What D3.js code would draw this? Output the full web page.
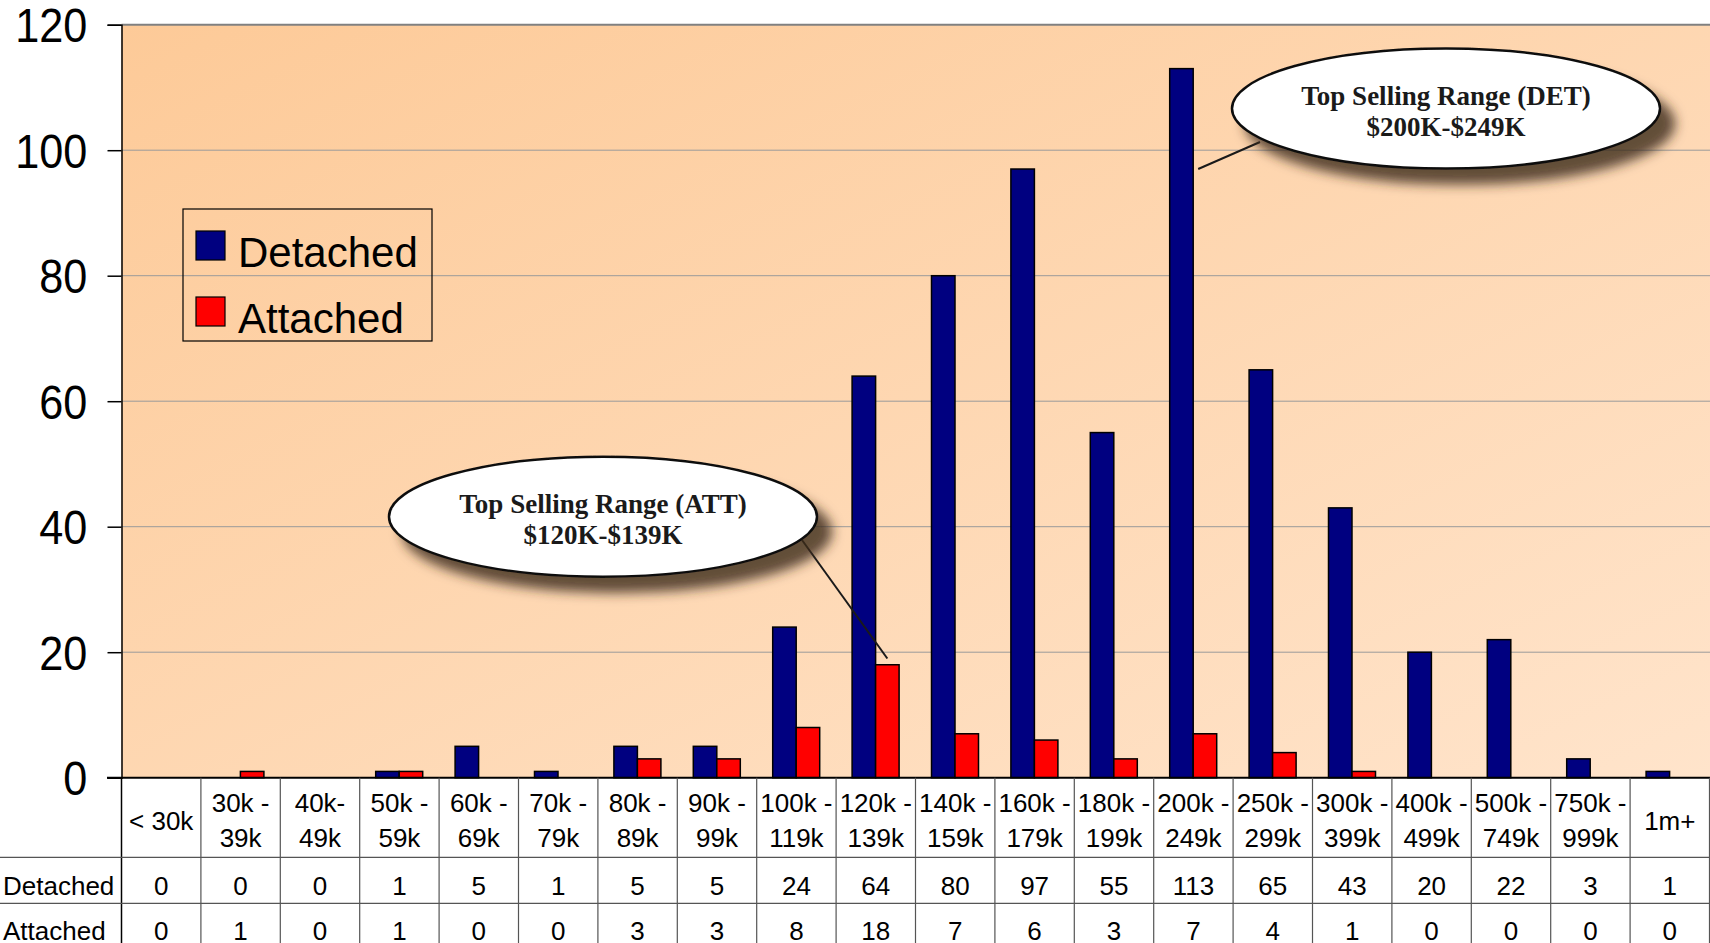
<!DOCTYPE html>
<html>
<head>
<meta charset="utf-8">
<script src="https://cdn.jsdelivr.net/npm/d3@7"></script>
<style>
  html, body { margin: 0; padding: 0; background: #fff; }
  svg { display: block; font-family: "Liberation Sans", Arial, sans-serif; }
</style>
</head>
<body>
<div id="chart"></div>
<script>
// price ranges (header row of the data table)
var categories = ["< 30k", "30k -|39k", "40k-|49k", "50k -|59k", "60k -|69k", "70k -|79k",
  "80k -|89k", "90k -|99k", "100k -|119k", "120k -|139k", "140k -|159k", "160k -|179k",
  "180k -|199k", "200k -|249k", "250k -|299k", "300k -|399k", "400k -|499k",
  "500k -|749k", "750k -|999k", "1m+"];
var series = ["Detached", "Attached"];
var detached = [0, 0, 0, 1, 5, 1, 5, 5, 24, 64, 80, 97, 55, 113, 65, 43, 20, 22, 3, 1];
var attached = [0, 1, 0, 1, 0, 0, 3, 3, 8, 18, 7, 6, 3, 7, 4, 1, 0, 0, 0, 0];
var yTicks = [0, 20, 40, 60, 80, 100, 120];
var colors = {"Detached": "#000080", "Attached": "#ff0000"};

var width = 1710, height = 943;
var plotLeft = 121.5, plotRight = 1709.5, plotTop = 24.7, zero = 777.7;

var svg = d3.select("#chart").append("svg")
    .attr("width", width)
    .attr("height", height);

var defs = svg.append("defs");
var grad = defs.append("linearGradient")
    .attr("id", "bg")
    .attr("x1", "0%").attr("y1", "0%")
    .attr("x2", "100%").attr("y2", "100%");
grad.append("stop").attr("offset", "0%").attr("stop-color", "#fdca98");
grad.append("stop").attr("offset", "100%").attr("stop-color", "#ffe4cb");

var shadow = defs.append("filter")
    .attr("id", "shadow")
    .attr("x", "-20%").attr("y", "-30%")
    .attr("width", "150%").attr("height", "180%");
shadow.append("feGaussianBlur").attr("in", "SourceAlpha").attr("stdDeviation", 6).attr("result", "blur");
shadow.append("feOffset").attr("in", "blur").attr("dx", 14).attr("dy", 15).attr("result", "off");
shadow.append("feFlood").attr("flood-color", "#3b2a1c").attr("flood-opacity", 0.8);
shadow.append("feComposite").attr("in2", "off").attr("operator", "in").attr("result", "sh");
var merge = shadow.append("feMerge");
merge.append("feMergeNode").attr("in", "sh");
merge.append("feMergeNode").attr("in", "SourceGraphic");

var x0 = d3.scaleBand()
    .domain(categories)
    .range([plotLeft, plotRight]);

var x1 = d3.scaleBand()
    .domain(series)
    .range([16, 63]);

var y = d3.scaleLinear()
    .domain([0, 120])
    .range([zero, plotTop]);

// plot background
svg.append("rect")
    .attr("x", plotLeft)
    .attr("y", plotTop)
    .attr("width", width - plotLeft)
    .attr("height", zero - plotTop)
    .attr("fill", "url(#bg)");

// gridlines
svg.append("g")
    .selectAll("line")
    .data(yTicks.filter(function(d) { return d > 0; }))
    .enter()
    .append("line")
    .attr("x1", plotLeft)
    .attr("x2", width)
    .attr("y1", function(d) { return y(d); })
    .attr("y2", function(d) { return y(d); })
    .attr("stroke", function(d) { return d == 120 ? "#808080" : "#9a9a9a"; })
    .attr("stroke-width", function(d) { return d == 120 ? 2 : 1; });

// y axis
var yAxis = svg.append("g")
    .attr("transform", "translate(" + plotLeft + ",0)")
    .call(d3.axisLeft(y).tickValues(yTicks).tickSize(14).tickPadding(24));
yAxis.select(".domain").attr("stroke", "#000").attr("stroke-width", 1.5);
yAxis.selectAll(".tick line").attr("stroke", "#000").attr("stroke-width", 1.5);
yAxis.selectAll(".tick text")
    .attr("font-size", 48)
    .attr("font-family", "'Liberation Sans', Arial, sans-serif")
    .attr("fill", "#000")
    .attr("dy", "0.36em")
    .attr("transform", "scale(0.9,1)");

// bars
var rows = categories.map(function(c, i) {
    return {cat: c, values: [
        {key: "Detached", value: detached[i]},
        {key: "Attached", value: attached[i]}
    ]};
});

var group = svg.selectAll(".grp")
    .data(rows)
    .enter()
    .append("g")
    .attr("class", "grp")
    .attr("transform", function(d) { return "translate(" + x0(d.cat) + ",0)"; });

group.selectAll("rect")
    .data(function(d) { return d.values.filter(function(v) { return v.value > 0; }); })
    .enter()
    .append("rect")
    .attr("x", function(d) { return x1(d.key); })
    .attr("y", function(d) { return y(d.value); })
    .attr("width", x1.bandwidth())
    .attr("height", function(d) { return zero - y(d.value); })
    .attr("fill", function(d) { return colors[d.key]; })
    .attr("stroke", "#000")
    .attr("stroke-width", 1.5);

// zero line
svg.append("line")
    .attr("x1", 107).attr("x2", width)
    .attr("y1", zero).attr("y2", zero)
    .attr("stroke", "#000").attr("stroke-width", 2);

// data table
var table = svg.append("g");
var rowLine1 = 857.3, rowLine2 = 903.3;

table.selectAll(".vline")
    .data(categories.concat(["end"]))
    .enter()
    .append("line")
    .attr("x1", function(d, i) { return plotLeft + i * x0.bandwidth(); })
    .attr("x2", function(d, i) { return plotLeft + i * x0.bandwidth(); })
    .attr("y1", zero)
    .attr("y2", height)
    .attr("stroke", function(d, i) { return i == 0 ? "#000" : "#555"; })
    .attr("stroke-width", function(d, i) { return i == 0 ? 1.5 : 1.2; });

[rowLine1, rowLine2].forEach(function(ly) {
    table.append("line")
        .attr("x1", 0).attr("x2", width)
        .attr("y1", ly).attr("y2", ly)
        .attr("stroke", "#555").attr("stroke-width", 1.2);
});

var head = table.selectAll(".head")
    .data(categories)
    .enter()
    .append("text")
    .attr("text-anchor", "middle")
    .attr("font-size", 26)
    .attr("fill", "#000")
    .attr("x", function(d) { return x0(d) + x0.bandwidth() / 2; });

head.each(function(d) {
    var parts = d.split("|");
    var t = d3.select(this);
    if (parts.length == 1) {
        t.append("tspan").attr("x", x0(d) + x0.bandwidth() / 2).attr("y", 830).text(parts[0]);
    } else {
        t.append("tspan").attr("x", x0(d) + x0.bandwidth() / 2).attr("y", 812).text(parts[0]);
        t.append("tspan").attr("x", x0(d) + x0.bandwidth() / 2).attr("y", 847).text(parts[1]);
    }
});

var tableRows = [
    {name: "Detached", values: detached, base: 895},
    {name: "Attached", values: attached, base: 940}
];

tableRows.forEach(function(r) {
    table.append("text")
        .attr("x", 3)
        .attr("y", r.base)
        .attr("font-size", 26)
        .text(r.name);
    table.selectAll(".v" + r.name)
        .data(r.values)
        .enter()
        .append("text")
        .attr("x", function(d, i) { return x0(categories[i]) + x0.bandwidth() / 2; })
        .attr("y", r.base)
        .attr("text-anchor", "middle")
        .attr("font-size", 26)
        .text(function(d) { return d; });
});

// legend
var legend = svg.append("g").attr("transform", "translate(183,209)");
legend.append("rect")
    .attr("width", 249).attr("height", 132)
    .attr("fill", "none")
    .attr("stroke", "#000").attr("stroke-width", 1.2);
series.forEach(function(s, i) {
    legend.append("rect")
        .attr("x", 13).attr("y", 22 + i * 66)
        .attr("width", 29).attr("height", 29)
        .attr("fill", colors[s])
        .attr("stroke", "#000").attr("stroke-width", 1.2);
    legend.append("text")
        .attr("x", 55).attr("y", 58 + i * 66)
        .attr("font-size", 42)
        .text(s);
});

// callouts
function callout(cat, key, val, cx, cy, lines, fromX, fromY) {
    var tx = x0(cat) + x1(key) + (key == "Detached" ? x1.bandwidth() + 5 : x1.bandwidth() / 2);
    var ty = y(val);
    svg.append("line")
        .attr("x1", fromX).attr("y1", fromY)
        .attr("x2", tx).attr("y2", ty)
        .attr("stroke", "#1a1a1a").attr("stroke-width", 2);
    var g = svg.append("g");
    g.append("ellipse")
        .attr("cx", cx).attr("cy", cy)
        .attr("rx", 214).attr("ry", 60)
        .attr("fill", "#fff")
        .attr("stroke", "#111").attr("stroke-width", 2.5)
        .attr("filter", "url(#shadow)");
    g.selectAll("text")
        .data(lines)
        .enter()
        .append("text")
        .attr("x", cx)
        .attr("y", function(d, i) { return cy - 4 + i * 31; })
        .attr("text-anchor", "middle")
        .attr("font-family", "'Liberation Serif', 'Times New Roman', serif")
        .attr("font-weight", "bold")
        .attr("font-size", 27)
        .attr("fill", "#1a1a1a")
        .text(function(d) { return d; });
}

callout("200k -|249k", "Detached", 97, 1446, 108.5,
    ["Top Selling Range (DET)", "$200K-$249K"], 1260, 142);
callout("120k -|139k", "Attached", 19, 603, 516.7,
    ["Top Selling Range (ATT)", "$120K-$139K"], 802, 540);
</script>
</body>
</html>
